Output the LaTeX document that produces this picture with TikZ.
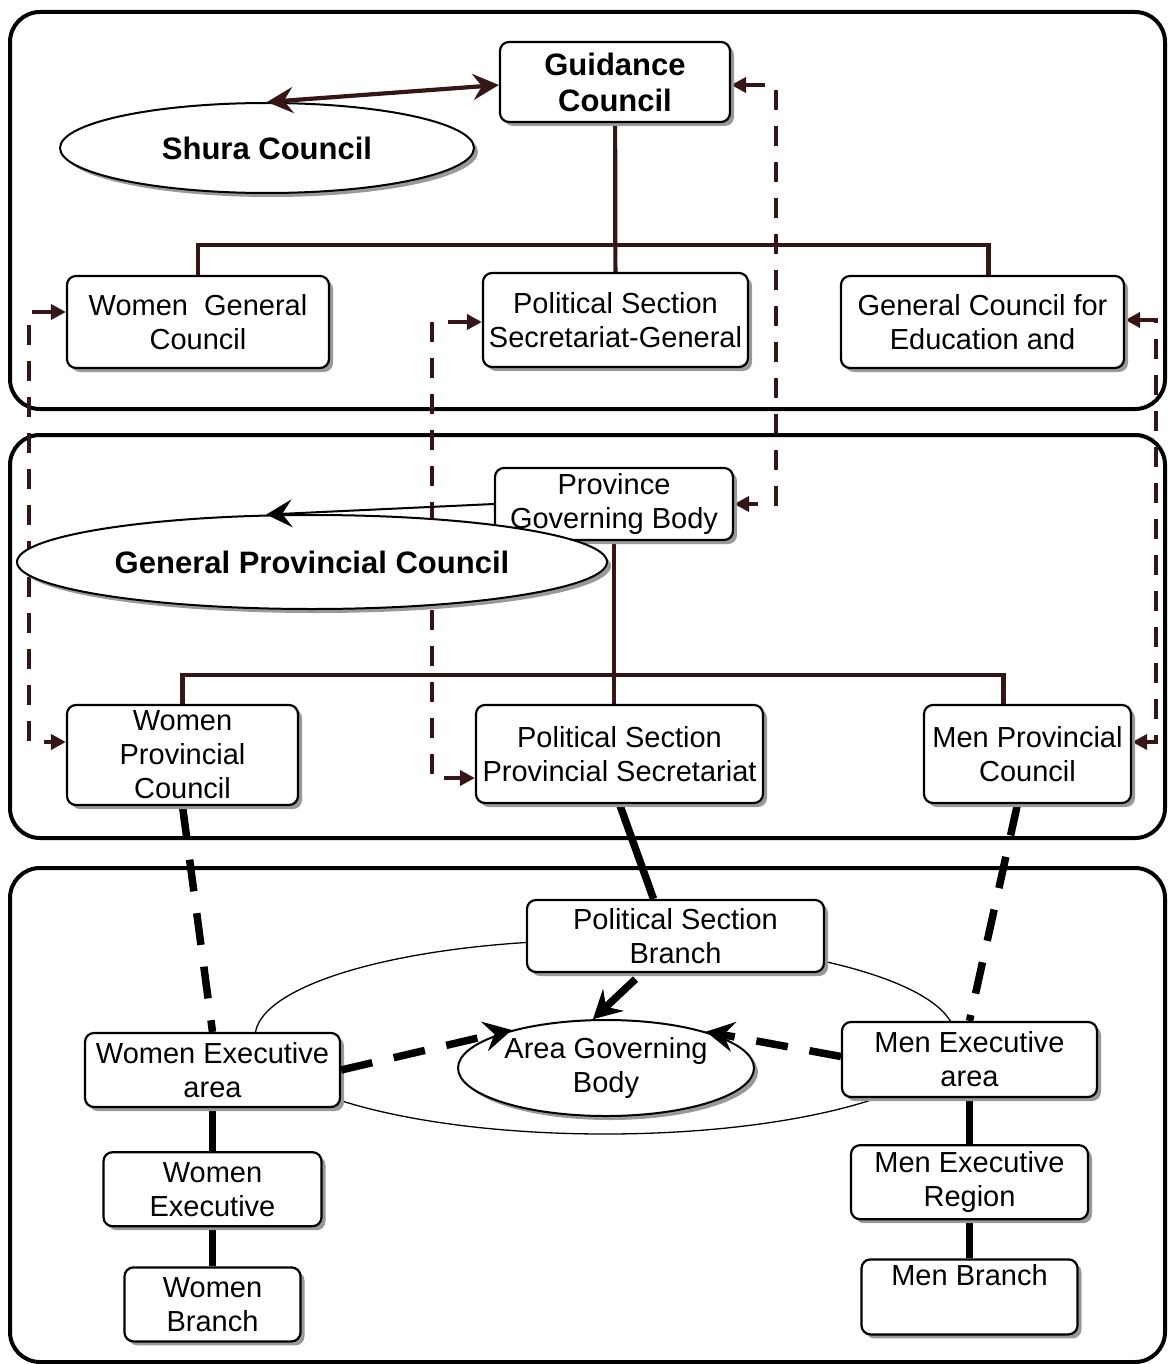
\documentclass[tikz,border=0pt]{standalone}
\usepackage{fontspec}
\setmainfont{Liberation Sans}
\usetikzlibrary{shapes.geometric,arrows.meta,positioning,shadows,backgrounds}
\definecolor{linkbrown}{RGB}{52,22,22}
\newcommand{\orgfont}{\fontsize{29}{34}\selectfont}
\newcommand{\headfont}{\fontsize{31}{36}\selectfont\bfseries}
\tikzset{
     org box/.style   = {draw, line width=2.2pt, rounded corners=9pt, fill=white,
                         align=center, inner sep=2pt, font=\orgfont,
                         drop shadow={shadow xshift=4pt, shadow yshift=-4pt, fill=black!40, opacity=1}},
     council/.style   = {ellipse, draw, line width=2pt, fill=white, align=center,
                         inner sep=1pt, font=\orgfont,
                         drop shadow={shadow xshift=4pt, shadow yshift=-4pt, fill=black!40, opacity=1}},
     head/.style      = {font=\headfont},
     panel/.style     = {draw, line width=4pt, rounded corners=30pt},
     tree link/.style = {linkbrown, line width=4.2pt},
     thin link/.style = {black, line width=2pt, -{Stealth[length=26pt,width=28pt,inset=10pt]}},
     cross link/.style = {linkbrown, line width=4.5pt, dash pattern=on 20pt off 16pt,
                         {Triangle[length=15pt,width=15pt]}-{Triangle[length=15pt,width=15pt]}},
     heavy/.style     = {black, line width=7.5pt},
     heavy dashed/.style = {black, line width=7.5pt, dash pattern=on 32pt off 22pt},
     heavy tip/.style = {-{Stealth[length=28pt,width=30pt,inset=10pt]}},
    }

\begin{document}
\begin{tikzpicture}[x=1pt, y=-1pt, node distance=43pt]
    \useasboundingbox (0,0) rectangle (1167,1364);

    % national level
    \node [org box, head, minimum width=230pt, minimum height=80pt] (guid) at (615,82) {Guidance\\Council};
    \node [council, head, minimum width=414pt, minimum height=90pt] (shura) at (267,148) {Shura Council};
    \node [org box, minimum width=262pt, minimum height=92pt] (wgc)  at (198,322)   {Women\ \ General\\Council};
    \node [org box, minimum width=265pt, minimum height=94pt] (pssg) at (615.5,320) {Political Section\\Secretariat-General};
    \node [org box, minimum width=283pt, minimum height=92pt] (gce)  at (982.5,322) {General Council for\\Education and};
    \coordinate (top bar) at (615,245);

    % provincial level
    \node [org box, minimum width=238pt, minimum height=72pt] (pgb) at (614,504) {Province\\Governing Body};
    \node [council, head, minimum width=590pt, minimum height=94pt] (gpc) at (312,562) {General Provincial Council};
    \node [org box, inner ysep=0pt, minimum width=231pt, minimum height=100pt] (wpc) at (182.5,755) {Women\\Provincial\\Council};
    \node [org box, minimum width=287pt, minimum height=98pt] (psps) at (619.5,754) {Political Section\\Provincial Secretariat};
    \node [org box, minimum width=207pt, minimum height=98pt] (mpc)  at (1027.5,754) {Men Provincial\\Council};
    \coordinate (mid bar) at (617,675);

    % area level
    \node [draw, ellipse, line width=1.3pt, minimum width=700pt, minimum height=194pt] (ring) at (605,1037) {};
    \node [org box, minimum width=297pt, minimum height=72pt] (psb) at (675.5,936) {Political Section\\Branch};
    \node [council, minimum width=296pt, minimum height=96pt] (agb) at (606,1068) {Area Governing\\Body};
    \node [org box, minimum width=255pt, minimum height=74pt] (wea) at (212.5,1070) {Women Executive\\area};
    \node [org box, minimum width=218pt, minimum height=74pt, below=43pt of wea] (we) {Women\\Executive};
    \node [org box, minimum width=176pt, minimum height=74pt, below=39pt of we]  (wb) {Women\\Branch};
    \node [org box, minimum width=255pt, minimum height=75pt] (mea) at (969.5,1059.5) {Men Executive\\area};
    \node [org box, minimum width=237pt, minimum height=74pt, below=46pt of mea] (mer) {Men Executive\\Region};
    \node [org box, minimum width=216pt, minimum height=75pt, below=38pt of mer] (mb)  {Men Branch\\\strut};

    \begin{pgfonlayer}{background}
        \draw [panel] (10,12)  rectangle (1165,409);
        \draw [panel] (10,435) rectangle (1165,838);
        \draw [panel] (10,868) rectangle (1165,1362);

        \draw [tree link] (wgc.north) |- (top bar) -| ([xshift=6pt]gce.north);
        \draw [tree link] (guid) -- (pssg);
        \draw [tree link] (wpc.north) |- (mid bar) -| ([xshift=-24pt]mpc.north);
        \draw [tree link] (pgb.south) -- (pgb.south |- psps.north);

        \draw [cross link] ([yshift=10pt]wgc.west) -- ++(-37,0) |- ([yshift=13pt]wpc.west);
        \draw [cross link] ([yshift=-2pt]pssg.west) -- ++(-50,0) |- ([yshift=-24pt]psps.west);
        \draw [cross link] ([yshift=-3pt]guid.east) -- ++(45,0) |- (pgb.east);
        \draw [cross link] ([yshift=2pt]gce.east) -- ++(31,0) |- ([yshift=12pt]mpc.east);

        \draw [heavy] (psps.south) -- ([xshift=-22pt]psb.north);
        \draw [heavy dashed] (wpc.south) -- (wea.north);
        \draw [heavy dashed] ([xshift=-10pt]mpc.south) -- (mea.north);
        \draw [heavy] (wea) -- (we);
        \draw [heavy] (we) -- (wb);
        \draw [heavy] (mea.south) -- (mea.south |- mer.north);
        \draw [heavy] (mer.south) -- (mer.south |- mb.north);
    \end{pgfonlayer}

    % arrows drawn over the councils
    \draw [tree link, {Stealth[length=26pt,width=26pt,inset=9pt]}-{Stealth[length=26pt,width=26pt,inset=9pt]}]
        (shura.north) -- ([yshift=-3pt]guid.west);
    \draw [thin link] (pgb.west) -- (gpc.134);
    \draw [heavy, heavy tip] ([xshift=-40pt,yshift=-6pt]psb.south) -- (agb.105);
    \draw [heavy dashed, heavy tip] (wea.east) -- (agb.158);
    \draw [heavy dashed, heavy tip] ([yshift=3pt]mea.west) -- (agb.20);
\end{tikzpicture}
\end{document}
